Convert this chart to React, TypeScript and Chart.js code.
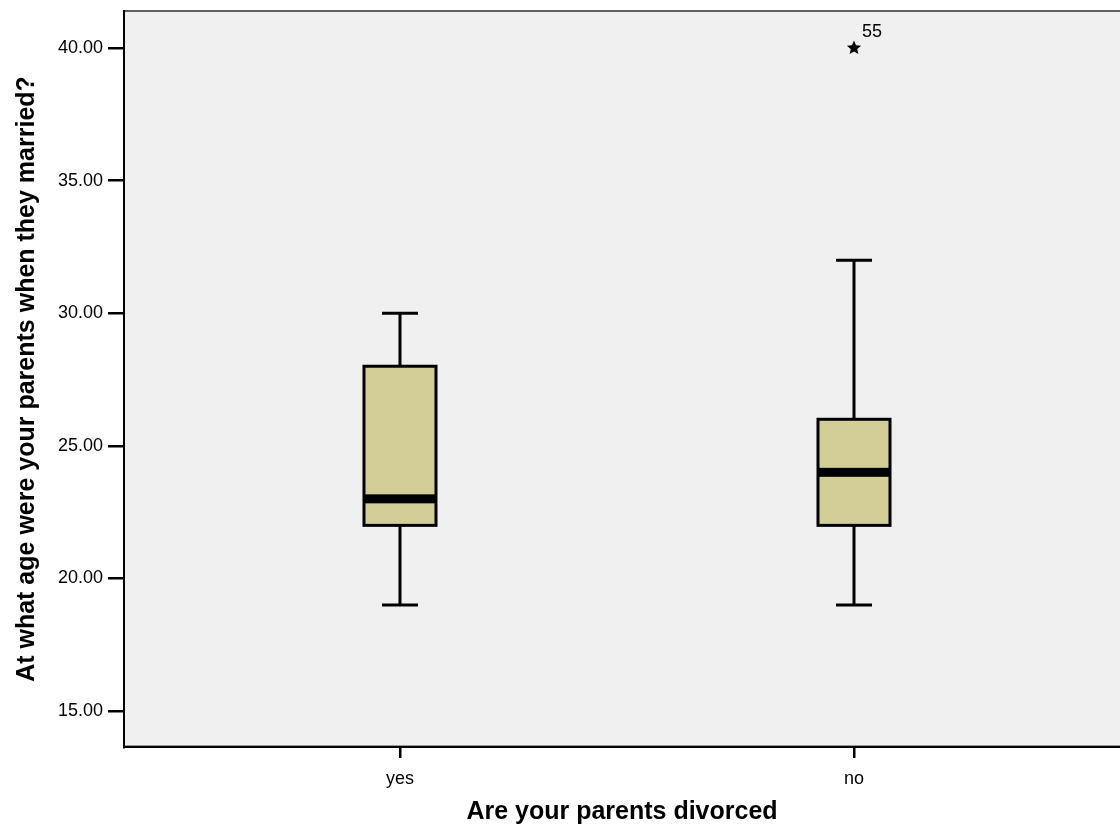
import React, { useEffect, useRef } from "react";
import { Chart, registerables } from "chart.js";

Chart.register(...registerables);

// ---- data ----
const categories = ["yes", "no"];
const whiskerLow = [19, 19];
const q1 = [22, 22];
const median = [23, 24];
const q3 = [28, 26];
const whiskerHigh = [30, 32];
const outlierGroup = [1];
const outlierValues = [40];
const outlierLabels = ["55"];
const yTicks = [15, 20, 25, 30, 35, 40];

const FONT = "'Liberation Sans', Arial, sans-serif";
const BOX_FILL = "#D3CE98";
const BG = "#F0F0F0";

function makeStar(): HTMLCanvasElement {
  const c = document.createElement("canvas");
  c.width = 20;
  c.height = 20;
  const ctx = c.getContext("2d")!;
  ctx.fillStyle = "#000";
  ctx.beginPath();
  const cx = 10, cy = 10, ro = 7.5, ri = 3.4;
  for (let i = 0; i < 10; i++) {
    const r = i % 2 === 0 ? ro : ri;
    const a = -Math.PI / 2 + (i * Math.PI) / 5;
    const x = cx + r * Math.cos(a);
    const y = cy + r * Math.sin(a);
    if (i === 0) ctx.moveTo(x, y);
    else ctx.lineTo(x, y);
  }
  ctx.closePath();
  ctx.fill();
  return c;
}

const boxPlugin = {
  id: "boxPlugin",
  beforeDraw(chart: any) {
    const { ctx, chartArea: a } = chart;
    ctx.save();
    ctx.fillStyle = BG;
    ctx.fillRect(a.left, a.top, a.right - a.left, a.bottom - a.top);
    ctx.strokeStyle = "#606060";
    ctx.lineWidth = 2;
    ctx.beginPath();
    ctx.moveTo(a.left, a.top);
    ctx.lineTo(a.right, a.top);
    ctx.stroke();
    ctx.strokeStyle = "#999";
    ctx.lineWidth = 1;
    ctx.beginPath();
    ctx.moveTo(a.left, a.bottom - 1.5);
    ctx.lineTo(a.right, a.bottom - 1.5);
    ctx.stroke();
    ctx.restore();
  },
  beforeDatasetsDraw(chart: any) {
    const { ctx, scales } = chart;
    const xs = scales.x;
    const ys = scales.y;
    const boxW = 72;
    const capW = 36;
    ctx.save();
    ctx.strokeStyle = "#000";
    ctx.lineCap = "butt";
    categories.forEach((_, i) => {
      const cx = xs.getPixelForValue(i);
      const yLo = ys.getPixelForValue(whiskerLow[i]);
      const yQ1 = ys.getPixelForValue(q1[i]);
      const yMed = ys.getPixelForValue(median[i]);
      const yQ3 = ys.getPixelForValue(q3[i]);
      const yHi = ys.getPixelForValue(whiskerHigh[i]);
      ctx.lineWidth = 3;
      // whiskers
      ctx.beginPath();
      ctx.moveTo(cx, yHi);
      ctx.lineTo(cx, yQ3);
      ctx.moveTo(cx, yQ1);
      ctx.lineTo(cx, yLo);
      ctx.moveTo(cx - capW / 2, yHi);
      ctx.lineTo(cx + capW / 2, yHi);
      ctx.moveTo(cx - capW / 2, yLo);
      ctx.lineTo(cx + capW / 2, yLo);
      ctx.stroke();
      // box
      ctx.fillStyle = BOX_FILL;
      ctx.fillRect(cx - boxW / 2, yQ3, boxW, yQ1 - yQ3);
      ctx.lineWidth = 3;
      ctx.strokeRect(cx - boxW / 2, yQ3, boxW, yQ1 - yQ3);
      // median
      ctx.fillStyle = "#000";
      ctx.fillRect(cx - boxW / 2, yMed - 4.5, boxW, 9);
    });
    ctx.restore();
  },
  afterDatasetsDraw(chart: any) {
    const { ctx, scales } = chart;
    ctx.save();
    ctx.fillStyle = "#000";
    ctx.font = `18px ${FONT}`;
    ctx.textAlign = "left";
    ctx.textBaseline = "middle";
    outlierGroup.forEach((g, i) => {
      const x = scales.x.getPixelForValue(g);
      const y = scales.y.getPixelForValue(outlierValues[i]);
      ctx.fillText(outlierLabels[i], x + 8, y - 16);
    });
    ctx.restore();
  },
};

export default function App() {
  const ref = useRef<HTMLCanvasElement | null>(null);
  useEffect(() => {
    if (!ref.current) return;
    const star = makeStar();
    const chart = new Chart(ref.current, {
      type: "scatter",
      data: {
        datasets: [
          {
            data: outlierGroup.map((g, i) => ({ x: g, y: outlierValues[i] })),
            pointStyle: star as any,
            pointRadius: 10,
            backgroundColor: "#000",
            borderColor: "#000",
          },
        ],
      },
      options: {
        animation: false,
        responsive: true,
        maintainAspectRatio: false,
        layout: { autoPadding: false, padding: { top: 11, left: 0, right: 0, bottom: 0 } },
        plugins: {
          legend: { display: false },
          tooltip: { enabled: false },
        },
        scales: {
          x: {
            type: "linear",
            min: -0.6079,
            max: 1.5859,
            afterFit: (s: any) => {
              s.height = 82;
              s.paddingLeft = 0;
              s.paddingRight = 0;
            },
            afterBuildTicks: (s: any) => {
              s.ticks = categories.map((_, i) => ({ value: i }));
            },
            ticks: {
              callback: (v: any) => categories[Number(v)] ?? "",
              color: "#000",
              font: { family: FONT, size: 18 },
              padding: 10,
              maxRotation: 0,
              autoSkip: false,
            },
            grid: {
              drawOnChartArea: false,
              drawTicks: true,
              tickLength: 11,
              color: "#000",
              lineWidth: 2.5,
            },
            border: { display: true, color: "#000", width: 2 },
            title: {
              display: true,
              text: "Are your parents divorced",
              color: "#000",
              font: { family: FONT, size: 25, weight: "bold" },
              padding: { top: 0, bottom: 2 },
            },
          },
          y: {
            type: "linear",
            min: 13.643,
            max: 41.395,
            afterFit: (s: any) => {
              s.width = 124;
              s.paddingTop = 0;
              s.paddingBottom = 0;
            },
            afterBuildTicks: (s: any) => {
              s.ticks = yTicks.map((v) => ({ value: v }));
            },
            ticks: {
              callback: (v: any) => Number(v).toFixed(2),
              color: "#000",
              font: { family: FONT, size: 18 },
              padding: 5,
              autoSkip: false,
            },
            grid: {
              drawOnChartArea: false,
              drawTicks: true,
              tickLength: 16,
              color: "#000",
              lineWidth: 2.5,
            },
            border: { display: true, color: "#000", width: 2 },
            title: {
              display: true,
              text: "At what age were your parents when they married?",
              color: "#000",
              font: { family: FONT, size: 25, weight: "bold" },
              padding: { top: 12, bottom: 0 },
            },
          },
        },
      },
      plugins: [boxPlugin],
    });
    return () => chart.destroy();
  }, []);
  return (
    <div style={{ position: "absolute", left: 0, top: 0, width: 1120, height: 829 }}>
      <canvas ref={ref} />
    </div>
  );
}
